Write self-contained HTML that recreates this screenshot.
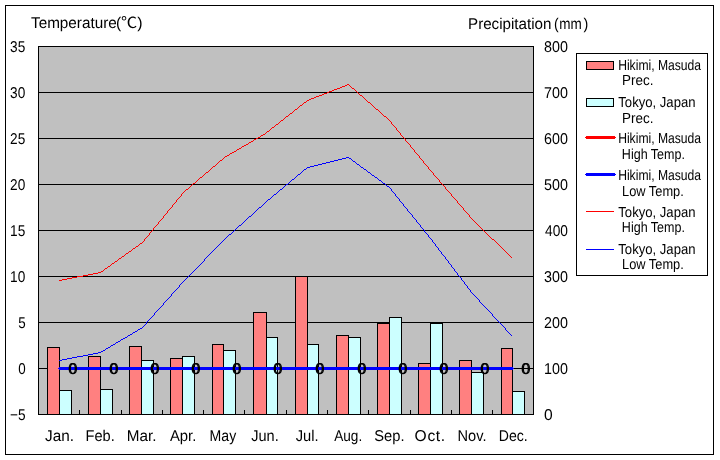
<!DOCTYPE html>
<html lang="en"><head><meta charset="utf-8"><title>Hikimi, Masuda vs Tokyo climate chart</title>
<style>html,body{margin:0;padding:0;background:#fff}svg{display:block}text{font-family:"Liberation Sans","Noto Sans CJK JP",sans-serif;fill:#000;text-rendering:geometricPrecision}</style></head><body>
<svg width="720" height="460" viewBox="0 0 720 460">
<rect x="0" y="0" width="720" height="460" fill="#fff"/>
<g shape-rendering="crispEdges">
<rect x="5.5" y="5.5" width="708" height="449" fill="#fff" stroke="#000" stroke-width="1"/>
<rect x="38.5" y="46.5" width="495" height="368" fill="#c0c0c0" stroke="#000" stroke-width="1"/>
<line x1="38" y1="92.5" x2="534" y2="92.5" stroke="#000" stroke-width="1"/>
<line x1="38" y1="138.5" x2="534" y2="138.5" stroke="#000" stroke-width="1"/>
<line x1="38" y1="184.5" x2="534" y2="184.5" stroke="#000" stroke-width="1"/>
<line x1="38" y1="230.5" x2="534" y2="230.5" stroke="#000" stroke-width="1"/>
<line x1="38" y1="276.5" x2="534" y2="276.5" stroke="#000" stroke-width="1"/>
<line x1="38" y1="322.5" x2="534" y2="322.5" stroke="#000" stroke-width="1"/>
<line x1="38" y1="368.5" x2="534" y2="368.5" stroke="#000" stroke-width="1"/>
<line x1="79.5" y1="410" x2="79.5" y2="414" stroke="#000" stroke-width="1"/>
<line x1="121.5" y1="410" x2="121.5" y2="414" stroke="#000" stroke-width="1"/>
<line x1="162.5" y1="410" x2="162.5" y2="414" stroke="#000" stroke-width="1"/>
<line x1="203.5" y1="410" x2="203.5" y2="414" stroke="#000" stroke-width="1"/>
<line x1="244.5" y1="410" x2="244.5" y2="414" stroke="#000" stroke-width="1"/>
<line x1="286.5" y1="410" x2="286.5" y2="414" stroke="#000" stroke-width="1"/>
<line x1="327.5" y1="410" x2="327.5" y2="414" stroke="#000" stroke-width="1"/>
<line x1="368.5" y1="410" x2="368.5" y2="414" stroke="#000" stroke-width="1"/>
<line x1="410.5" y1="410" x2="410.5" y2="414" stroke="#000" stroke-width="1"/>
<line x1="451.5" y1="410" x2="451.5" y2="414" stroke="#000" stroke-width="1"/>
<line x1="492.5" y1="410" x2="492.5" y2="414" stroke="#000" stroke-width="1"/>
<rect x="47.5" y="347.5" width="12" height="67" fill="#ff8080" stroke="#000" stroke-width="1"/>
<rect x="59.5" y="390.5" width="12" height="24" fill="#ccffff" stroke="#000" stroke-width="1"/>
<rect x="88.5" y="356.5" width="12" height="58" fill="#ff8080" stroke="#000" stroke-width="1"/>
<rect x="100.5" y="389.5" width="12" height="25" fill="#ccffff" stroke="#000" stroke-width="1"/>
<rect x="129.5" y="346.5" width="12" height="68" fill="#ff8080" stroke="#000" stroke-width="1"/>
<rect x="141.5" y="360.5" width="12" height="54" fill="#ccffff" stroke="#000" stroke-width="1"/>
<rect x="170.5" y="358.5" width="12" height="56" fill="#ff8080" stroke="#000" stroke-width="1"/>
<rect x="182.5" y="356.5" width="12" height="58" fill="#ccffff" stroke="#000" stroke-width="1"/>
<rect x="212.5" y="344.5" width="11" height="70" fill="#ff8080" stroke="#000" stroke-width="1"/>
<rect x="223.5" y="350.5" width="12" height="64" fill="#ccffff" stroke="#000" stroke-width="1"/>
<rect x="253.5" y="312.5" width="13" height="102" fill="#ff8080" stroke="#000" stroke-width="1"/>
<rect x="266.5" y="337.5" width="11" height="77" fill="#ccffff" stroke="#000" stroke-width="1"/>
<rect x="295.5" y="276.5" width="12" height="138" fill="#ff8080" stroke="#000" stroke-width="1"/>
<rect x="307.5" y="344.5" width="11" height="70" fill="#ccffff" stroke="#000" stroke-width="1"/>
<rect x="336.5" y="335.5" width="12" height="79" fill="#ff8080" stroke="#000" stroke-width="1"/>
<rect x="348.5" y="337.5" width="12" height="77" fill="#ccffff" stroke="#000" stroke-width="1"/>
<rect x="377.5" y="323.5" width="12" height="91" fill="#ff8080" stroke="#000" stroke-width="1"/>
<rect x="389.5" y="317.5" width="12" height="97" fill="#ccffff" stroke="#000" stroke-width="1"/>
<rect x="418.5" y="363.5" width="12" height="51" fill="#ff8080" stroke="#000" stroke-width="1"/>
<rect x="430.5" y="323.5" width="12" height="91" fill="#ccffff" stroke="#000" stroke-width="1"/>
<rect x="459.5" y="360.5" width="12" height="54" fill="#ff8080" stroke="#000" stroke-width="1"/>
<rect x="471.5" y="372.5" width="12" height="42" fill="#ccffff" stroke="#000" stroke-width="1"/>
<rect x="501.5" y="348.5" width="11" height="66" fill="#ff8080" stroke="#000" stroke-width="1"/>
<rect x="512.5" y="391.5" width="12" height="23" fill="#ccffff" stroke="#000" stroke-width="1"/>
<path d="M59 367h454v1h1v1h-1v1h-454v-1h-1v-1h1z" fill="#ff0000"/>
<path d="M59 367h454v1h1v1h-1v1h-454v-1h-1v-1h1z" fill="#0000ff"/>
<path d="M347 84h2v1h-2zM345 85h2v1h-2zM349 85h1v1h-1zM342 86h3v1h-3zM350 86h1v1h-1zM340 87h2v1h-2zM351 87h1v1h-1zM337 88h3v1h-3zM352 88h2v1h-2zM334 89h3v1h-3zM354 89h1v1h-1zM332 90h2v1h-2zM355 90h1v1h-1zM329 91h3v1h-3zM356 91h1v1h-1zM327 92h2v1h-2zM357 92h1v1h-1zM324 93h3v1h-3zM358 93h1v1h-1zM322 94h2v1h-2zM359 94h1v1h-1zM319 95h3v1h-3zM360 95h2v1h-2zM316 96h3v1h-3zM362 96h1v1h-1zM314 97h2v1h-2zM363 97h1v1h-1zM311 98h3v1h-3zM364 98h1v1h-1zM309 99h2v1h-2zM365 99h1v1h-1zM307 100h2v1h-2zM366 100h1v1h-1zM306 101h1v1h-1zM367 101h1v1h-1zM304 102h2v1h-2zM368 102h2v1h-2zM303 103h1v1h-1zM370 103h1v1h-1zM302 104h1v1h-1zM371 104h1v1h-1zM300 105h2v1h-2zM372 105h1v1h-1zM299 106h1v1h-1zM373 106h1v1h-1zM298 107h1v1h-1zM374 107h1v1h-1zM297 108h1v1h-1zM375 108h1v1h-1zM295 109h2v1h-2zM376 109h2v1h-2zM294 110h1v1h-1zM378 110h1v1h-1zM293 111h1v1h-1zM379 111h1v1h-1zM292 112h1v1h-1zM380 112h1v1h-1zM290 113h2v1h-2zM381 113h1v1h-1zM289 114h1v1h-1zM382 114h1v1h-1zM288 115h1v1h-1zM383 115h1v1h-1zM286 116h2v1h-2zM384 116h2v1h-2zM285 117h1v1h-1zM386 117h1v1h-1zM284 118h1v1h-1zM387 118h1v1h-1zM283 119h1v1h-1zM388 119h1v1h-1zM281 120h2v1h-2zM389 120h1v1h-1zM280 121h1v1h-1zM390 121h1v1h-1zM279 122h1v1h-1zM391 122h1v2h-1zM278 123h1v1h-1zM276 124h2v1h-2zM392 124h1v1h-1zM275 125h1v1h-1zM393 125h1v1h-1zM274 126h1v1h-1zM394 126h1v1h-1zM272 127h2v1h-2zM395 127h1v1h-1zM271 128h1v1h-1zM396 128h1v2h-1zM270 129h1v1h-1zM269 130h1v1h-1zM397 130h1v1h-1zM267 131h2v1h-2zM398 131h1v1h-1zM266 132h1v1h-1zM399 132h1v1h-1zM265 133h1v1h-1zM400 133h1v2h-1zM263 134h2v1h-2zM261 135h2v1h-2zM401 135h1v1h-1zM260 136h1v1h-1zM402 136h1v1h-1zM258 137h2v1h-2zM403 137h1v1h-1zM256 138h2v1h-2zM404 138h1v1h-1zM254 139h2v1h-2zM405 139h1v2h-1zM253 140h1v1h-1zM251 141h2v1h-2zM406 141h1v1h-1zM249 142h2v1h-2zM407 142h1v1h-1zM248 143h1v1h-1zM408 143h1v1h-1zM246 144h2v1h-2zM409 144h1v1h-1zM244 145h2v1h-2zM410 145h1v2h-1zM242 146h2v1h-2zM241 147h1v1h-1zM411 147h1v1h-1zM239 148h2v1h-2zM412 148h1v1h-1zM237 149h2v1h-2zM413 149h1v1h-1zM236 150h1v1h-1zM414 150h1v2h-1zM234 151h2v1h-2zM232 152h2v1h-2zM415 152h1v1h-1zM230 153h2v1h-2zM416 153h1v1h-1zM229 154h1v1h-1zM417 154h1v1h-1zM227 155h2v1h-2zM418 155h1v1h-1zM225 156h2v1h-2zM419 156h1v2h-1zM224 157h1v1h-1zM223 158h1v1h-1zM420 158h1v1h-1zM222 159h1v1h-1zM421 159h1v1h-1zM220 160h2v1h-2zM422 160h1v1h-1zM219 161h1v1h-1zM423 161h1v2h-1zM218 162h1v1h-1zM217 163h1v1h-1zM424 163h1v1h-1zM216 164h1v1h-1zM425 164h1v1h-1zM215 165h1v1h-1zM426 165h1v1h-1zM213 166h2v1h-2zM427 166h1v1h-1zM212 167h1v1h-1zM428 167h1v2h-1zM211 168h1v1h-1zM210 169h1v1h-1zM429 169h1v1h-1zM209 170h1v1h-1zM430 170h1v1h-1zM208 171h1v1h-1zM431 171h1v1h-1zM206 172h2v1h-2zM432 172h1v1h-1zM205 173h1v1h-1zM433 173h1v2h-1zM204 174h1v1h-1zM203 175h1v1h-1zM434 175h1v1h-1zM202 176h1v1h-1zM435 176h1v1h-1zM200 177h2v1h-2zM436 177h1v1h-1zM199 178h1v1h-1zM437 178h1v1h-1zM198 179h1v1h-1zM438 179h1v1h-1zM197 180h1v1h-1zM439 180h1v2h-1zM196 181h1v1h-1zM195 182h1v1h-1zM440 182h1v1h-1zM193 183h2v1h-2zM441 183h1v1h-1zM192 184h1v1h-1zM442 184h1v1h-1zM191 185h1v1h-1zM443 185h1v1h-1zM190 186h1v1h-1zM444 186h1v1h-1zM189 187h1v1h-1zM445 187h1v2h-1zM188 188h1v1h-1zM186 189h2v1h-2zM446 189h1v1h-1zM185 190h1v1h-1zM447 190h1v1h-1zM184 191h1v1h-1zM448 191h1v1h-1zM183 192h1v1h-1zM449 192h1v1h-1zM182 193h1v1h-1zM450 193h1v1h-1zM181 194h1v2h-1zM451 194h1v2h-1zM180 196h1v1h-1zM452 196h1v1h-1zM179 197h1v1h-1zM453 197h1v1h-1zM178 198h1v1h-1zM454 198h1v1h-1zM177 199h1v1h-1zM455 199h1v1h-1zM176 200h1v2h-1zM456 200h1v1h-1zM457 201h1v2h-1zM175 202h1v1h-1zM174 203h1v1h-1zM458 203h1v1h-1zM173 204h1v1h-1zM459 204h1v1h-1zM172 205h1v2h-1zM460 205h1v1h-1zM461 206h1v1h-1zM171 207h1v1h-1zM462 207h1v1h-1zM170 208h1v1h-1zM463 208h1v2h-1zM169 209h1v1h-1zM168 210h1v1h-1zM464 210h1v1h-1zM167 211h1v2h-1zM465 211h1v1h-1zM466 212h1v1h-1zM166 213h1v1h-1zM467 213h1v1h-1zM165 214h1v1h-1zM468 214h1v1h-1zM164 215h1v1h-1zM469 215h1v2h-1zM163 216h1v2h-1zM470 217h1v1h-1zM162 218h1v1h-1zM471 218h1v1h-1zM161 219h1v1h-1zM472 219h1v1h-1zM160 220h1v1h-1zM473 220h1v1h-1zM159 221h1v1h-1zM474 221h1v1h-1zM158 222h1v2h-1zM475 222h1v1h-1zM476 223h1v1h-1zM157 224h1v1h-1zM477 224h1v1h-1zM156 225h1v1h-1zM478 225h1v1h-1zM155 226h1v1h-1zM479 226h1v1h-1zM154 227h1v1h-1zM480 227h1v1h-1zM153 228h1v2h-1zM481 228h1v1h-1zM482 229h1v1h-1zM152 230h1v1h-1zM483 230h1v1h-1zM151 231h1v1h-1zM484 231h1v1h-1zM150 232h1v1h-1zM485 232h1v1h-1zM149 233h1v2h-1zM486 233h1v1h-1zM487 234h1v1h-1zM148 235h1v1h-1zM488 235h1v1h-1zM147 236h1v1h-1zM489 236h1v1h-1zM146 237h1v1h-1zM490 237h1v1h-1zM145 238h1v1h-1zM491 238h1v1h-1zM144 239h1v2h-1zM492 239h2v1h-2zM494 240h1v1h-1zM143 241h1v1h-1zM495 241h1v1h-1zM142 242h1v1h-1zM496 242h1v1h-1zM140 243h2v1h-2zM497 243h1v1h-1zM139 244h1v1h-1zM498 244h1v1h-1zM138 245h1v1h-1zM499 245h1v1h-1zM136 246h2v1h-2zM500 246h1v1h-1zM135 247h1v1h-1zM501 247h1v1h-1zM133 248h2v1h-2zM502 248h1v1h-1zM132 249h1v1h-1zM503 249h1v1h-1zM131 250h1v1h-1zM504 250h1v1h-1zM129 251h2v1h-2zM505 251h1v1h-1zM128 252h1v1h-1zM506 252h1v1h-1zM126 253h2v1h-2zM507 253h1v1h-1zM125 254h1v1h-1zM508 254h1v1h-1zM124 255h1v1h-1zM509 255h1v1h-1zM122 256h2v1h-2zM510 256h1v1h-1zM121 257h1v1h-1zM511 257h1v1h-1zM119 258h2v1h-2zM118 259h1v1h-1zM117 260h1v1h-1zM115 261h2v1h-2zM114 262h1v1h-1zM112 263h2v1h-2zM111 264h1v1h-1zM110 265h1v1h-1zM108 266h2v1h-2zM107 267h1v1h-1zM105 268h2v1h-2zM104 269h1v1h-1zM103 270h1v1h-1zM101 271h2v1h-2zM98 272h3v1h-3zM93 273h5v1h-5zM88 274h5v1h-5zM83 275h5v1h-5zM77 276h6v1h-6zM72 277h5v1h-5zM67 278h5v1h-5zM62 279h5v1h-5zM59 280h3v1h-3z" fill="#ff0000"/>
<path d="M346 157h3v1h-3zM342 158h4v1h-4zM349 158h2v1h-2zM338 159h4v1h-4zM351 159h1v1h-1zM334 160h4v1h-4zM352 160h1v1h-1zM330 161h4v1h-4zM353 161h2v1h-2zM326 162h4v1h-4zM355 162h1v1h-1zM322 163h4v1h-4zM356 163h1v1h-1zM318 164h4v1h-4zM357 164h2v1h-2zM314 165h4v1h-4zM359 165h1v1h-1zM310 166h4v1h-4zM360 166h1v1h-1zM307 167h3v1h-3zM361 167h2v1h-2zM306 168h1v1h-1zM363 168h1v1h-1zM304 169h2v1h-2zM364 169h2v1h-2zM303 170h1v1h-1zM366 170h1v1h-1zM302 171h1v1h-1zM367 171h1v1h-1zM301 172h1v1h-1zM368 172h2v1h-2zM300 173h1v1h-1zM370 173h1v1h-1zM298 174h2v1h-2zM371 174h1v1h-1zM297 175h1v1h-1zM372 175h2v1h-2zM296 176h1v1h-1zM374 176h1v1h-1zM295 177h1v1h-1zM375 177h2v1h-2zM294 178h1v1h-1zM377 178h1v1h-1zM292 179h2v1h-2zM378 179h1v1h-1zM291 180h1v1h-1zM379 180h2v1h-2zM290 181h1v1h-1zM381 181h1v1h-1zM289 182h1v1h-1zM382 182h1v1h-1zM288 183h1v1h-1zM383 183h2v1h-2zM286 184h2v1h-2zM385 184h1v1h-1zM285 185h1v1h-1zM386 185h1v1h-1zM284 186h1v1h-1zM387 186h2v1h-2zM283 187h1v1h-1zM389 187h1v1h-1zM282 188h1v1h-1zM390 188h1v1h-1zM280 189h2v1h-2zM391 189h1v2h-1zM279 190h1v1h-1zM278 191h1v1h-1zM392 191h1v1h-1zM277 192h1v1h-1zM393 192h1v1h-1zM276 193h1v1h-1zM394 193h1v1h-1zM274 194h2v1h-2zM395 194h1v2h-1zM273 195h1v1h-1zM272 196h1v1h-1zM396 196h1v1h-1zM271 197h1v1h-1zM397 197h1v1h-1zM270 198h1v1h-1zM398 198h1v1h-1zM268 199h2v1h-2zM399 199h1v2h-1zM267 200h1v1h-1zM266 201h1v1h-1zM400 201h1v1h-1zM265 202h1v1h-1zM401 202h1v1h-1zM264 203h1v1h-1zM402 203h1v1h-1zM263 204h1v1h-1zM403 204h1v2h-1zM262 205h1v1h-1zM261 206h1v1h-1zM404 206h1v1h-1zM259 207h2v1h-2zM405 207h1v1h-1zM258 208h1v1h-1zM406 208h1v1h-1zM257 209h1v1h-1zM407 209h1v2h-1zM256 210h1v1h-1zM255 211h1v1h-1zM408 211h1v1h-1zM254 212h1v1h-1zM409 212h1v1h-1zM253 213h1v1h-1zM410 213h1v1h-1zM252 214h1v1h-1zM411 214h1v1h-1zM251 215h1v1h-1zM412 215h1v2h-1zM249 216h2v1h-2zM248 217h1v1h-1zM413 217h1v1h-1zM247 218h1v1h-1zM414 218h1v1h-1zM246 219h1v1h-1zM415 219h1v1h-1zM245 220h1v1h-1zM416 220h1v2h-1zM244 221h1v1h-1zM243 222h1v1h-1zM417 222h1v1h-1zM242 223h1v1h-1zM418 223h1v1h-1zM241 224h1v1h-1zM419 224h1v1h-1zM239 225h2v1h-2zM420 225h1v2h-1zM238 226h1v1h-1zM237 227h1v1h-1zM421 227h1v1h-1zM236 228h1v1h-1zM422 228h1v1h-1zM235 229h1v1h-1zM423 229h1v1h-1zM234 230h1v1h-1zM424 230h1v2h-1zM233 231h1v1h-1zM232 232h1v1h-1zM425 232h1v1h-1zM231 233h1v1h-1zM426 233h1v1h-1zM229 234h2v1h-2zM427 234h1v1h-1zM228 235h1v1h-1zM428 235h1v2h-1zM227 236h1v1h-1zM226 237h1v1h-1zM429 237h1v1h-1zM225 238h1v1h-1zM430 238h1v1h-1zM224 239h1v1h-1zM431 239h1v1h-1zM223 240h1v1h-1zM432 240h1v2h-1zM222 241h1v1h-1zM221 242h1v1h-1zM433 242h1v1h-1zM220 243h1v1h-1zM434 243h1v1h-1zM219 244h1v1h-1zM435 244h1v2h-1zM218 245h1v1h-1zM217 246h1v1h-1zM436 246h1v1h-1zM216 247h1v1h-1zM437 247h1v1h-1zM215 248h1v1h-1zM438 248h1v2h-1zM214 249h1v1h-1zM213 250h1v1h-1zM439 250h1v1h-1zM212 251h1v1h-1zM440 251h1v1h-1zM211 252h1v1h-1zM441 252h1v2h-1zM210 253h1v1h-1zM209 254h1v1h-1zM442 254h1v1h-1zM208 255h1v1h-1zM443 255h1v1h-1zM207 256h1v1h-1zM444 256h1v1h-1zM206 257h1v1h-1zM445 257h1v2h-1zM205 258h1v1h-1zM204 259h1v2h-1zM446 259h1v1h-1zM447 260h1v1h-1zM203 261h1v1h-1zM448 261h1v2h-1zM202 262h1v1h-1zM201 263h1v1h-1zM449 263h1v1h-1zM200 264h1v1h-1zM450 264h1v1h-1zM199 265h1v1h-1zM451 265h1v2h-1zM198 266h1v1h-1zM197 267h1v1h-1zM452 267h1v1h-1zM196 268h1v1h-1zM453 268h1v1h-1zM195 269h1v1h-1zM454 269h1v2h-1zM194 270h1v1h-1zM193 271h1v1h-1zM455 271h1v1h-1zM192 272h1v1h-1zM456 272h1v1h-1zM191 273h1v1h-1zM457 273h1v2h-1zM190 274h1v1h-1zM189 275h1v1h-1zM458 275h1v1h-1zM188 276h1v1h-1zM459 276h1v1h-1zM187 277h1v1h-1zM460 277h1v1h-1zM186 278h1v1h-1zM461 278h1v2h-1zM185 279h1v1h-1zM184 280h1v1h-1zM462 280h1v1h-1zM183 281h1v1h-1zM463 281h1v1h-1zM182 282h1v1h-1zM464 282h1v2h-1zM181 283h1v1h-1zM180 284h1v1h-1zM465 284h1v1h-1zM179 285h1v2h-1zM466 285h1v1h-1zM467 286h1v2h-1zM178 287h1v1h-1zM177 288h1v1h-1zM468 288h1v1h-1zM176 289h1v1h-1zM469 289h1v1h-1zM175 290h1v1h-1zM470 290h1v2h-1zM174 291h1v1h-1zM173 292h1v1h-1zM471 292h1v1h-1zM172 293h1v1h-1zM472 293h1v1h-1zM171 294h1v2h-1zM473 294h1v1h-1zM474 295h1v1h-1zM170 296h1v1h-1zM475 296h1v1h-1zM169 297h1v1h-1zM476 297h1v1h-1zM168 298h1v1h-1zM477 298h1v1h-1zM167 299h1v1h-1zM478 299h1v1h-1zM166 300h1v1h-1zM479 300h1v2h-1zM165 301h1v1h-1zM164 302h1v1h-1zM480 302h1v1h-1zM163 303h1v2h-1zM481 303h1v1h-1zM482 304h1v1h-1zM162 305h1v1h-1zM483 305h1v1h-1zM161 306h1v1h-1zM484 306h1v1h-1zM160 307h1v1h-1zM485 307h1v1h-1zM159 308h1v1h-1zM486 308h1v1h-1zM158 309h1v1h-1zM487 309h1v1h-1zM157 310h1v1h-1zM488 310h1v1h-1zM156 311h1v1h-1zM489 311h1v1h-1zM155 312h1v1h-1zM490 312h1v1h-1zM154 313h1v2h-1zM491 313h1v1h-1zM492 314h1v2h-1zM153 315h1v1h-1zM152 316h1v1h-1zM493 316h1v1h-1zM151 317h1v1h-1zM494 317h1v1h-1zM150 318h1v1h-1zM495 318h1v1h-1zM149 319h1v1h-1zM496 319h1v1h-1zM148 320h1v1h-1zM497 320h1v1h-1zM147 321h1v1h-1zM498 321h1v1h-1zM146 322h1v2h-1zM499 322h1v1h-1zM500 323h1v1h-1zM145 324h1v1h-1zM501 324h1v1h-1zM144 325h1v1h-1zM502 325h1v1h-1zM143 326h1v1h-1zM503 326h1v1h-1zM142 327h1v1h-1zM504 327h1v1h-1zM140 328h2v1h-2zM505 328h1v2h-1zM138 329h2v1h-2zM137 330h1v1h-1zM506 330h1v1h-1zM135 331h2v1h-2zM507 331h1v1h-1zM133 332h2v1h-2zM508 332h1v1h-1zM132 333h1v1h-1zM509 333h1v1h-1zM130 334h2v1h-2zM510 334h1v1h-1zM128 335h2v1h-2zM511 335h1v1h-1zM127 336h1v1h-1zM125 337h2v1h-2zM123 338h2v1h-2zM121 339h2v1h-2zM120 340h1v1h-1zM118 341h2v1h-2zM116 342h2v1h-2zM115 343h1v1h-1zM113 344h2v1h-2zM111 345h2v1h-2zM110 346h1v1h-1zM108 347h2v1h-2zM106 348h2v1h-2zM105 349h1v1h-1zM103 350h2v1h-2zM101 351h2v1h-2zM98 352h3v1h-3zM93 353h5v1h-5zM88 354h5v1h-5zM83 355h5v1h-5zM77 356h6v1h-6zM72 357h5v1h-5zM67 358h5v1h-5zM62 359h5v1h-5zM59 360h3v1h-3z" fill="#0000ff"/>
<rect x="576.5" y="53.5" width="131" height="222" fill="#fff" stroke="#000" stroke-width="1"/>
<rect x="586.5" y="61.5" width="27" height="8" fill="#ff8080" stroke="#000" stroke-width="1"/>
<rect x="586.5" y="98.5" width="27" height="8" fill="#ccffff" stroke="#000" stroke-width="1"/>
<path d="M586 136h29v1h1v1h-1v1h-29v-1h-1v-1h1z" fill="#ff0000"/>
<path d="M586 173h29v1h1v1h-1v1h-29v-1h-1v-1h1z" fill="#0000ff"/>
<line x1="586" y1="211.5" x2="614" y2="211.5" stroke="#ff0000" stroke-width="1"/>
<line x1="586" y1="249.5" x2="614" y2="249.5" stroke="#0000ff" stroke-width="1"/>
</g>
<text transform="translate(68.00,374) scale(1.0000,1)" font-size="15.6">0</text>
<text transform="translate(69.00,374) scale(1.0000,1)" font-size="15.6">0</text>
<text transform="translate(109.00,374) scale(1.0000,1)" font-size="15.6">0</text>
<text transform="translate(110.00,374) scale(1.0000,1)" font-size="15.6">0</text>
<text transform="translate(150.00,374) scale(1.0000,1)" font-size="15.6">0</text>
<text transform="translate(151.00,374) scale(1.0000,1)" font-size="15.6">0</text>
<text transform="translate(191.00,374) scale(1.0000,1)" font-size="15.6">0</text>
<text transform="translate(192.00,374) scale(1.0000,1)" font-size="15.6">0</text>
<text transform="translate(232.00,374) scale(1.0000,1)" font-size="15.6">0</text>
<text transform="translate(233.00,374) scale(1.0000,1)" font-size="15.6">0</text>
<text transform="translate(273.00,374) scale(1.0000,1)" font-size="15.6">0</text>
<text transform="translate(274.00,374) scale(1.0000,1)" font-size="15.6">0</text>
<text transform="translate(315.00,374) scale(1.0000,1)" font-size="15.6">0</text>
<text transform="translate(316.00,374) scale(1.0000,1)" font-size="15.6">0</text>
<text transform="translate(357.00,374) scale(1.0000,1)" font-size="15.6">0</text>
<text transform="translate(358.00,374) scale(1.0000,1)" font-size="15.6">0</text>
<text transform="translate(398.00,374) scale(1.0000,1)" font-size="15.6">0</text>
<text transform="translate(399.00,374) scale(1.0000,1)" font-size="15.6">0</text>
<text transform="translate(439.00,374) scale(1.0000,1)" font-size="15.6">0</text>
<text transform="translate(440.00,374) scale(1.0000,1)" font-size="15.6">0</text>
<text transform="translate(480.00,374) scale(1.0000,1)" font-size="15.6">0</text>
<text transform="translate(481.00,374) scale(1.0000,1)" font-size="15.6">0</text>
<text transform="translate(521.00,374) scale(1.0000,1)" font-size="15.6">0</text>
<text transform="translate(522.00,374) scale(1.0000,1)" font-size="15.6">0</text>
<text transform="translate(10.12,52) scale(0.8750,1)" font-size="15.6">35</text>
<text transform="translate(10.12,98) scale(0.8750,1)" font-size="15.6">30</text>
<text transform="translate(10.12,144) scale(0.8750,1)" font-size="15.6">25</text>
<text transform="translate(10.12,190) scale(0.8750,1)" font-size="15.6">20</text>
<text transform="translate(10.12,236) scale(0.8750,1)" font-size="15.6">15</text>
<text transform="translate(10.12,282) scale(0.8750,1)" font-size="15.6">10</text>
<text transform="translate(18.14,328) scale(0.8571,1)" font-size="15.6">5</text>
<text transform="translate(18.14,374) scale(0.8571,1)" font-size="15.6">0</text>
<text transform="translate(10.12,420) scale(0.8750,1)" font-size="15.6">−5</text>
<text transform="translate(544.08,52) scale(0.9167,1)" font-size="15.6">800</text>
<text transform="translate(544.08,98) scale(0.9167,1)" font-size="15.6">700</text>
<text transform="translate(544.08,144) scale(0.9167,1)" font-size="15.6">600</text>
<text transform="translate(544.08,190) scale(0.9167,1)" font-size="15.6">500</text>
<text transform="translate(545.00,236) scale(0.8800,1)" font-size="15.6">400</text>
<text transform="translate(544.08,282) scale(0.9167,1)" font-size="15.6">300</text>
<text transform="translate(544.08,328) scale(0.9167,1)" font-size="15.6">200</text>
<text transform="translate(544.08,374) scale(0.9167,1)" font-size="15.6">100</text>
<text transform="translate(544.00,420) scale(1.0000,1)" font-size="15.6">0</text>
<text transform="translate(45.00,441) scale(0.9821,1)" font-size="15.6">Jan.</text>
<text transform="translate(85.57,441) scale(0.9345,1)" font-size="15.6">Feb.</text>
<text transform="translate(126.72,441) scale(0.9786,1)" font-size="15.6">Mar.</text>
<text transform="translate(169.90,441) scale(0.9519,1)" font-size="15.6">Apr.</text>
<text transform="translate(209.60,441) scale(0.9036,1)" font-size="15.6">May</text>
<text transform="translate(251.20,441) scale(0.9321,1)" font-size="15.6">Jun.</text>
<text transform="translate(295.70,441) scale(0.9435,1)" font-size="15.6">Jul.</text>
<text transform="translate(334.20,441) scale(0.8742,1)" font-size="15.6">Aug.</text>
<text transform="translate(374.26,441) scale(0.9433,1)" font-size="15.6">Sep.</text>
<text transform="translate(414.60,441) scale(1,1)" font-size="15.6" letter-spacing="0.667">Oct.</text>
<text transform="translate(457.57,441) scale(0.9345,1)" font-size="15.6">Nov.</text>
<text transform="translate(498.80,441) scale(0.9033,1)" font-size="15.6">Dec.</text>
<text transform="translate(618.16,70) scale(0.8367,1)" font-size="14.5">Hikimi, Masuda</text>
<text transform="translate(622.07,85) scale(0.9281,1)" font-size="14.5">Prec.</text>
<text transform="translate(618.30,107) scale(0.9035,1)" font-size="14.5">Tokyo, Japan</text>
<text transform="translate(622.07,123) scale(0.9281,1)" font-size="14.5">Prec.</text>
<text transform="translate(618.16,143) scale(0.8367,1)" font-size="14.5">Hikimi, Masuda</text>
<text transform="translate(621.84,159) scale(0.8634,1)" font-size="14.5">High Temp.</text>
<text transform="translate(618.16,180) scale(0.8367,1)" font-size="14.5">Hikimi, Masuda</text>
<text transform="translate(622.02,196) scale(0.8838,1)" font-size="14.5">Low Temp.</text>
<text transform="translate(618.30,217) scale(0.9035,1)" font-size="14.5">Tokyo, Japan</text>
<text transform="translate(621.84,232) scale(0.8634,1)" font-size="14.5">High Temp.</text>
<text transform="translate(618.30,254) scale(0.9035,1)" font-size="14.5">Tokyo, Japan</text>
<text transform="translate(622.02,269) scale(0.8838,1)" font-size="14.5">Low Temp.</text>
<text y="28" font-size="15.6"><tspan x="31.00" textLength="85.74" lengthAdjust="spacingAndGlyphs">Temperature</tspan><tspan x="116.00" textLength="5.20" lengthAdjust="spacingAndGlyphs">(</tspan><tspan x="120.96" textLength="16.17" lengthAdjust="spacingAndGlyphs">℃</tspan><tspan x="137.20" textLength="5.33" lengthAdjust="spacingAndGlyphs">)</tspan></text>
<text y="29" font-size="15.6"><tspan x="468.03" textLength="83.46" lengthAdjust="spacingAndGlyphs">Precipitation</tspan><tspan x="554.00" textLength="4.68" lengthAdjust="spacingAndGlyphs">(</tspan><tspan x="559.33" textLength="22.52" lengthAdjust="spacingAndGlyphs">mm</tspan><tspan x="583.50" textLength="4.81" lengthAdjust="spacingAndGlyphs">)</tspan></text>
</svg></body></html>
